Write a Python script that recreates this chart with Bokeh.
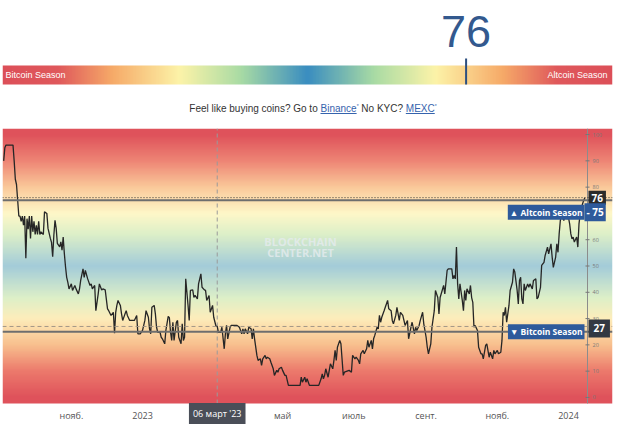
import numpy as np
import pandas as pd
from bokeh.plotting import figure
from bokeh.models import Range1d, Span, Label, FixedTicker, Div, ColumnDataSource
from bokeh.layouts import column
from bokeh.embed import file_html
from bokeh.resources import INLINE
from bokeh.core.properties import value

# ---------------- data ----------------
current_index = 76
altcoin_threshold = 75
bitcoin_threshold = 25
cursor_date = "2023-03-06"
cursor_value = 27
cursor_label = "06 март '23"
gauge_left_label = "Bitcoin Season"
gauge_right_label = "Altcoin Season"
altcoin_label = "▲ Altcoin Season"
bitcoin_label = "▼ Bitcoin Season"

x_tick_dates = ["2022-11-01", "2023-01-01", "2023-05-01", "2023-07-01",
                "2023-09-01", "2023-11-01", "2024-01-01"]
x_tick_labels = ["нояб.", "2023", "май", "июль", "сент.", "нояб.", "2024"]
y_tick_values = [0, 10, 20, 30, 40, 50, 60, 70, 80, 90, 100]

dates_2022 = [
    "2022-09-04", "2022-09-05", "2022-09-06", "2022-09-12", "2022-09-13", "2022-09-14",
    "2022-09-15", "2022-09-16", "2022-09-17", "2022-09-18", "2022-09-19", "2022-09-20",
    "2022-09-21", "2022-09-22", "2022-09-23", "2022-09-24", "2022-09-25", "2022-09-26",
    "2022-09-27", "2022-09-28", "2022-09-29", "2022-09-30",
    "2022-10-01", "2022-10-02", "2022-10-03", "2022-10-04", "2022-10-05", "2022-10-06",
    "2022-10-08", "2022-10-09", "2022-10-11", "2022-10-12", "2022-10-14", "2022-10-15",
    "2022-10-16", "2022-10-17", "2022-10-18", "2022-10-19", "2022-10-20", "2022-10-22",
    "2022-10-23", "2022-10-24", "2022-10-25", "2022-10-26", "2022-10-27", "2022-10-28",
    "2022-10-29", "2022-10-30",
    "2022-11-01", "2022-11-02", "2022-11-04", "2022-11-05", "2022-11-07", "2022-11-08",
    "2022-11-09", "2022-11-11", "2022-11-12", "2022-11-13", "2022-11-15", "2022-11-17",
    "2022-11-18", "2022-11-19", "2022-11-21", "2022-11-22", "2022-11-24", "2022-11-25",
    "2022-11-27", "2022-11-28", "2022-11-30",
    "2022-12-02", "2022-12-03", "2022-12-05", "2022-12-07", "2022-12-08", "2022-12-09",
    "2022-12-10", "2022-12-11", "2022-12-13", "2022-12-14", "2022-12-15", "2022-12-17",
    "2022-12-18", "2022-12-19", "2022-12-21", "2022-12-25", "2022-12-27", "2022-12-28",
    "2022-12-30",
]
values_2022 = [
    90, 95, 96, 96, 90, 83,
    81, 75, 69, 69, 67, 69,
    65.5, 69, 53, 68, 64, 69,
    60.5, 69, 63, 67,
    62, 65.5, 62, 67, 62, 63,
    62, 70.6, 70, 64.3, 60.5, 59,
    53.5, 61.7, 67.4, 64.3, 58.6, 57.3,
    59.2, 56, 61, 54.7, 49.7, 45.7,
    43.8, 41.3,
    43.2, 40.7, 42.6, 41.3, 39.4, 41.3,
    44.5, 48.9, 45.7, 48.3, 45.1, 42.6,
    43.2, 41.3, 42.6, 33, 39.4, 43.2,
    40.9, 41.3, 40.9,
    33.7, 33, 31.2, 32.4, 24.4, 32.4,
    35, 36.9, 35, 31.8, 29.3, 31.8,
    33, 31.2, 29.3, 29.3, 31.2, 24.2,
    24.2,
]

dates_2023 = [
    "2023-01-01", "2023-01-03", "2023-01-04", "2023-01-06", "2023-01-07", "2023-01-08",
    "2023-01-09", "2023-01-11", "2023-01-12", "2023-01-13", "2023-01-14", "2023-01-16",
    "2023-01-17", "2023-01-18", "2023-01-20", "2023-01-21", "2023-01-23", "2023-01-24",
    "2023-01-25", "2023-01-26", "2023-01-27", "2023-01-28", "2023-01-30", "2023-01-31",
    "2023-02-01", "2023-02-03", "2023-02-04", "2023-02-05", "2023-02-06", "2023-02-07",
    "2023-02-09", "2023-02-10", "2023-02-11", "2023-02-13", "2023-02-14", "2023-02-15",
    "2023-02-17", "2023-02-18", "2023-02-20", "2023-02-21", "2023-02-23", "2023-02-24",
    "2023-02-25", "2023-02-27", "2023-02-28",
    "2023-03-02", "2023-03-03", "2023-03-05", "2023-03-06", "2023-03-07", "2023-03-09",
    "2023-03-10", "2023-03-12", "2023-03-13", "2023-03-14", "2023-03-15", "2023-03-17",
    "2023-03-18", "2023-03-23", "2023-03-25", "2023-03-27", "2023-03-28", "2023-03-29",
    "2023-03-30",
    "2023-04-01", "2023-04-02", "2023-04-04", "2023-04-05", "2023-04-06", "2023-04-07",
    "2023-04-09", "2023-04-10", "2023-04-12", "2023-04-13", "2023-04-14", "2023-04-16",
    "2023-04-17", "2023-04-18", "2023-04-20", "2023-04-21", "2023-04-23", "2023-04-24",
    "2023-04-26", "2023-04-27", "2023-04-28", "2023-04-30",
    "2023-05-01", "2023-05-03", "2023-05-04", "2023-05-06", "2023-05-16", "2023-05-17",
    "2023-05-18", "2023-05-20", "2023-05-21", "2023-05-22", "2023-05-24",
    "2023-06-01", "2023-06-03", "2023-06-04", "2023-06-05", "2023-06-06", "2023-06-07",
    "2023-06-09", "2023-06-10", "2023-06-11", "2023-06-13", "2023-06-14", "2023-06-15",
    "2023-06-16", "2023-06-17", "2023-06-19", "2023-06-20", "2023-06-22", "2023-06-23",
    "2023-06-27", "2023-06-29", "2023-06-30",
    "2023-07-02", "2023-07-03", "2023-07-05", "2023-07-06", "2023-07-07", "2023-07-09",
    "2023-07-10", "2023-07-12", "2023-07-13", "2023-07-14", "2023-07-16", "2023-07-17",
    "2023-07-18", "2023-07-19", "2023-07-21", "2023-07-22", "2023-07-23", "2023-07-24",
    "2023-07-25", "2023-07-27", "2023-07-28", "2023-07-30", "2023-07-31",
    "2023-08-02", "2023-08-03", "2023-08-04", "2023-08-06", "2023-08-07", "2023-08-09",
    "2023-08-10", "2023-08-12", "2023-08-13", "2023-08-14", "2023-08-16", "2023-08-17",
    "2023-08-19", "2023-08-20", "2023-08-22", "2023-08-23", "2023-08-24", "2023-08-26",
    "2023-08-27", "2023-08-29", "2023-08-30",
    "2023-09-01", "2023-09-02", "2023-09-03", "2023-09-05", "2023-09-06", "2023-09-08",
    "2023-09-09", "2023-09-11", "2023-09-12", "2023-09-13", "2023-09-16", "2023-09-17",
    "2023-09-19", "2023-09-20", "2023-09-23", "2023-09-24", "2023-09-25", "2023-09-26",
    "2023-09-27", "2023-09-28", "2023-09-29", "2023-09-30",
    "2023-10-02", "2023-10-03", "2023-10-04", "2023-10-05", "2023-10-06", "2023-10-08",
    "2023-10-09", "2023-10-10", "2023-10-11", "2023-10-12", "2023-10-13", "2023-10-15",
    "2023-10-16", "2023-10-18", "2023-10-19", "2023-10-20", "2023-10-22", "2023-10-23",
    "2023-10-25", "2023-10-26", "2023-10-28", "2023-10-29", "2023-10-30",
    "2023-11-01", "2023-11-02", "2023-11-04", "2023-11-05", "2023-11-06", "2023-11-07",
    "2023-11-08", "2023-11-09", "2023-11-11", "2023-11-12", "2023-11-14", "2023-11-15",
    "2023-11-16", "2023-11-18", "2023-11-19", "2023-11-20", "2023-11-21", "2023-11-22",
    "2023-11-23", "2023-11-24", "2023-11-25", "2023-11-27", "2023-11-28", "2023-11-29",
    "2023-12-01", "2023-12-02", "2023-12-04", "2023-12-05", "2023-12-06", "2023-12-08",
    "2023-12-09", "2023-12-11", "2023-12-12", "2023-12-14", "2023-12-15", "2023-12-17",
    "2023-12-18", "2023-12-19", "2023-12-21", "2023-12-22", "2023-12-23", "2023-12-24",
    "2023-12-25", "2023-12-26", "2023-12-28", "2023-12-29", "2023-12-31",
]
values_2023 = [
    25.5, 29.3, 33, 30.5, 26.1, 24.2,
    34.3, 35, 31.8, 26.7, 24.8, 24.8,
    22.9, 22.3, 20.4, 25.5, 30.8, 30.3,
    24.8, 21.7, 28.6, 21.7, 28.6, 29.3,
    22.9, 20.4, 28, 21.7, 22.9, 45.1,
    35, 29.3, 40.7, 40.9, 38.1, 38.8,
    37.5, 43.2, 47, 41.9, 40.9, 40.7,
    36.9, 38.8, 32.4,
    35, 30.5, 27, 27, 24.8, 24.8,
    26.7, 18.5, 24.2, 27.4, 22.3, 26.7,
    27.4, 27.4, 26.7, 24.2, 26.1, 24.2,
    26.1,
    24.2, 26.7, 26.1, 22.3, 26.1, 22.3,
    16, 14.1, 14.7, 12.2, 14.7, 16,
    14.7, 15.3, 14.7, 13.4, 10.9, 8.4,
    10.3, 9.6, 10.9, 11.5,
    10.3, 8.4, 8.4, 4.6, 4.6, 7.7,
    5.8, 7.7, 5.8, 7.1, 4.6,
    4.6, 7.1, 9, 7.1, 8.4, 10.9,
    7.7, 10.3, 12.8, 10.9, 14.1, 17.9,
    14.1, 19.1, 21.7, 20.4, 8.4, 9.6,
    10.3, 9.6, 16,
    14.7, 15.3, 14.1, 12.8, 16.6, 17.9,
    16.6, 18.5, 21.7, 19.1, 21.7, 18.5,
    22.3, 23.6, 26.7, 26.1, 31.2, 28.6,
    30.5, 33, 34.3, 36.9, 33.7,
    33, 29.3, 28, 31.2, 34.3, 29.3,
    32.4, 31.2, 29.3, 27.4, 29.3, 22.3,
    26.7, 28.6, 24.2, 26.7, 25.5, 27.4,
    29.3, 32.4, 28,
    22.9, 19.1, 16.6, 20.4, 26.7, 33,
    40.7, 38, 31.8, 38, 42.6, 39.4,
    48.3, 48.9, 48.9, 45.1, 46.4, 45.1,
    57.2, 43.2, 37.5, 43.2,
    36.9, 33, 40.7, 36.9, 41.3, 39.4,
    42.6, 38, 36.2, 26.7, 27.4, 25.5,
    19.1, 16.6, 16.6, 14.7, 19.8, 20.4,
    15.3, 17.2, 14.7, 17.9, 16.6,
    17.9, 16.6, 17.2, 21.7, 32.4, 31.2,
    34.3, 28.6, 35, 40.7, 43.8, 48.9,
    47.7, 40.7, 35.6, 44.5, 45.7, 37.5,
    35.6, 43.2, 40.7, 43.2, 41.9, 43.2,
    41.3, 44.5, 45.1, 37.5, 38.1, 41.9,
    50.2, 51.4, 54, 57.2, 54.6, 58.4,
    53.4, 49.5, 53.4, 58.4, 55.2, 62.2,
    67.3, 69.2, 67.3, 69.2, 67.9,
]

dates_2024 = [
    "2024-01-01", "2024-01-02", "2024-01-03", "2024-01-04", "2024-01-05", "2024-01-06",
    "2024-01-08", "2024-01-09", "2024-01-10", "2024-01-11", "2024-01-12", "2024-01-13",
    "2024-01-14", "2024-01-15",
]
values_2024 = [
    68.4, 66, 62.2, 60.3, 61, 59.1,
    61, 57.2, 66, 69.8, 71.7, 73.6,
    74.9, 76,
]

# ---------------- styling helpers ----------------
def to_ms(d):
    return float((pd.Timestamp(d) - pd.Timestamp("1970-01-01")) / pd.Timedelta(milliseconds=1))


def hex_rgb(h):
    h = h.lstrip("#")
    return [int(h[i:i + 2], 16) for i in (0, 2, 4)]


def gradient_at(pos, stop_pos, stop_hex):
    cols = np.array([hex_rgb(c) for c in stop_hex], dtype=float)
    out = np.empty((len(pos), 4), dtype=np.uint8)
    for k in range(3):
        out[:, k] = np.round(np.interp(pos, stop_pos, cols[:, k])).astype(np.uint8)
    out[:, 3] = 255
    return out


FONT_UI = "Liberation Sans"
FONT_CHART = "Open Sans"

# ---------------- gauge (top bar) ----------------
g = figure(width=640, height=98, x_range=Range1d(0, 100), y_range=Range1d(0, 98),
           output_backend="svg", toolbar_location=None,
           min_border_left=2, min_border_right=28, min_border_top=0, min_border_bottom=0,
           x_axis_location=None, y_axis_location=None, outline_line_color=None)
g.xgrid.visible = False
g.ygrid.visible = False
g.background_fill_color = "white"
g.border_fill_color = "white"

gauge_stops = [0, 9, 18, 29, 39, 50, 61, 71, 82, 91, 100]
gauge_cols = ["#dc4f58", "#df585b", "#f6aa68", "#fcf3a8", "#a9dba4", "#3a8dc0",
              "#a9dba4", "#fcf3a8", "#f6aa68", "#df585b", "#dc4f58"]
n_g = 400
grow = gradient_at(np.linspace(0, 100, n_g), gauge_stops, gauge_cols)
gimg = np.zeros((1, n_g), dtype=np.uint32)
gimg.view(dtype=np.uint8).reshape((1, n_g, 4))[0] = grow
g.image_rgba(image=[gimg], x=0, y=14, dw=100, dh=19)

g.text(x=[0.5], y=[23.5], text=[gauge_left_label], text_color="white",
       text_font=value(FONT_UI), text_font_size="9px", text_baseline="middle", text_align="left")
g.text(x=[99.2], y=[23.5], text=[gauge_right_label], text_color="white",
       text_font=value(FONT_UI), text_font_size="9px", text_baseline="middle", text_align="right")
g.segment(x0=[current_index], y0=[14], x1=[current_index], y1=[40],
          line_color="#2c4f80", line_width=2)
g.text(x=[current_index], y=[67], text=[str(current_index)], text_color="#33598e",
       text_font=value(FONT_UI), text_font_size="45px", text_baseline="middle", text_align="center")

# ---------------- sponsor text ----------------
div = Div(
    text=('<div style="width:626px;text-align:center;font-family:\'Liberation Sans\',Arial,sans-serif;'
          'font-size:10px;color:#333;line-height:16px;">Feel like buying coins? Go to '
          '<span style="color:#3563ad;text-decoration:underline">Binance</span>'
          '<sup style="font-size:5px;color:#3563ad">*</sup> No KYC? '
          '<span style="color:#3563ad;text-decoration:underline">MEXC</span>'
          '<sup style="font-size:5px;color:#3563ad">*</sup></div>'),
    width=640, height=22, margin=(0, 0, 0, 0))

# ---------------- main chart ----------------
dates = pd.to_datetime(dates_2022 + dates_2023 + dates_2024)
values = values_2022 + values_2023 + values_2024
src = ColumnDataSource(dict(date=dates, value=values))

x_start = pd.Timestamp("2022-09-03")
x_end = pd.Timestamp("2024-02-07 17:00")
axis_date = pd.Timestamp("2024-01-17 07:00")
axis_ms = to_ms(axis_date)
y_lo, y_hi = -2.3, 102.3           # extent of the coloured plot area
px_per_unit = 275 / (y_hi - y_lo)
y_bottom = y_hi - 301 / px_per_unit  # frame continues down to hold the date labels

p = figure(width=640, height=309, x_axis_type="datetime",
           x_range=Range1d(x_start, x_end), y_range=Range1d(y_bottom, y_hi),
           output_backend="svg", toolbar_location=None,
           min_border_left=2, min_border_right=28, min_border_top=8, min_border_bottom=0,
           y_axis_location=None, outline_line_color=None)
p.xgrid.visible = False
p.ygrid.visible = False
p.background_fill_color = "white"
p.border_fill_color = "white"

bg_stops = [0, 10, 20, 30, 38, 50, 62, 70, 80, 90, 100]
bg_cols = ["#df525b", "#ec7a6c", "#f8c08e", "#fdedbb", "#dcefc8", "#a3ccd9",
           "#dcefc8", "#fef7c8", "#fac99a", "#ee8575", "#df525b"]
n_bg = 320
brow = gradient_at(np.linspace(y_lo, y_hi, n_bg), bg_stops, bg_cols)
bimg = np.zeros((n_bg, 1), dtype=np.uint32)
bimg.view(dtype=np.uint8).reshape((n_bg, 1, 4))[:, 0, :] = brow
x0_ms = to_ms(x_start)
p.image_rgba(image=[bimg], x=x0_ms, y=y_lo, dw=to_ms(x_end) - x0_ms, dh=y_hi - y_lo)

# watermark
mid_date = x_start + (x_end - x_start) / 2 - pd.Timedelta(days=6)
p.text(x=[mid_date, mid_date], y=[59.3, 55.1], text=["BLOCKCHAIN", "CENTER.NET"],
       text_color="#e6ecef", text_alpha=0.8, text_font=value(FONT_CHART),
       text_font_size="11px", text_font_style="bold", text_align="center", text_baseline="middle")

# threshold lines and current value line
p.add_layout(Span(location=altcoin_threshold, dimension="width", line_color="#6e6e6e", line_width=2))
p.add_layout(Span(location=bitcoin_threshold, dimension="width", line_color="#6e6e6e", line_width=2))
p.add_layout(Span(location=current_index, dimension="width", line_color="#333333",
                  line_width=1, line_dash="1 2"))
p.add_layout(Span(location=cursor_value, dimension="width",
                  line_color="#a39686", line_width=1, line_dash="4 3"))
# crosshair vertical and price scale line (stop at the bottom of the coloured area)
cursor_ms = to_ms(cursor_date)
p.segment(x0=[cursor_ms], y0=[y_lo], x1=[cursor_ms], y1=[y_hi], line_color="#9a9a9a",
          line_width=1, line_dash="4 3")
p.segment(x0=[axis_ms], y0=[y_lo], x1=[axis_ms], y1=[y_hi], line_color="#8c8c8c", line_width=1)

# price line
p.line("date", "value", source=src, line_color="#262626", line_width=1.3)

# right price scale
p.scatter(x=[axis_date] * len(y_tick_values), y=y_tick_values, marker="dash", size=4,
          line_color="#777777")
p.text(x=[axis_date] * len(y_tick_values), y=y_tick_values,
       text=[str(v) for v in y_tick_values], x_offset=5, text_color="#7a7a7a",
       text_font=value(FONT_CHART), text_font_size="5.5px", text_baseline="middle", text_align="left")

label_font = dict(text_font=FONT_CHART, text_font_style="bold")
p.add_layout(Label(x=axis_ms, y=current_index, x_offset=1, text=str(current_index),
                   text_color="white", text_font_size="10px", text_baseline="middle",
                   text_align="left", background_fill_color="#2b2b2b", padding=3, **label_font))
p.add_layout(Label(x=axis_ms, y=altcoin_threshold, x_offset=-3, y_offset=-12, text=altcoin_label,
                   text_color="white", text_font_size="8.5px", text_baseline="middle",
                   text_align="right", background_fill_color="#2e5a9b", padding=2, **label_font))
p.add_layout(Label(x=axis_ms, y=altcoin_threshold, x_offset=-3, y_offset=-12,
                   text="- " + str(altcoin_threshold),
                   text_color="white", text_font_size="10px", text_baseline="middle",
                   text_align="left", background_fill_color="#2e5a9b", padding=2, **label_font))
p.add_layout(Label(x=axis_ms, y=bitcoin_threshold, x_offset=-3, text=bitcoin_label,
                   text_color="white", text_font_size="8.5px", text_baseline="middle",
                   text_align="right", background_fill_color="#2e5a9b", padding=2, **label_font))
p.add_layout(Label(x=axis_ms, y=cursor_value, x_offset=1, y_offset=-2, text=str(cursor_value),
                   text_color="white", text_font_size="10px", text_baseline="middle",
                   text_align="left", background_fill_color="#333842", padding=5, **label_font))

# x axis drawn at the bottom of the coloured area
tick_ms = [to_ms(d) for d in x_tick_dates]
p.xaxis.fixed_location = y_lo
p.xaxis.ticker = FixedTicker(ticks=tick_ms)
p.xaxis.major_label_overrides = {t: lbl for t, lbl in zip(tick_ms, x_tick_labels)}
p.xaxis.axis_line_color = None
p.xaxis.major_tick_line_color = None
p.xaxis.minor_tick_line_color = None
p.xaxis.major_tick_in = 0
p.xaxis.major_tick_out = 0
p.xaxis.minor_tick_in = 0
p.xaxis.minor_tick_out = 0
p.xaxis.major_label_text_font = FONT_CHART
p.xaxis.major_label_text_font_size = "9px"
p.xaxis.major_label_text_color = "#555555"
p.xaxis.major_label_standoff = 5

# crosshair date tag under the plot area
p.add_layout(Label(x=cursor_ms, y=y_lo, y_offset=-10, text=cursor_label,
                   text_color="white", text_font_size="9px", text_baseline="middle",
                   text_align="center", background_fill_color="#4a4e58", padding=4,
                   text_font=FONT_CHART))

layout = column(g, div, p, spacing=0)
open("out.html", "w").write(file_html(layout, INLINE))
